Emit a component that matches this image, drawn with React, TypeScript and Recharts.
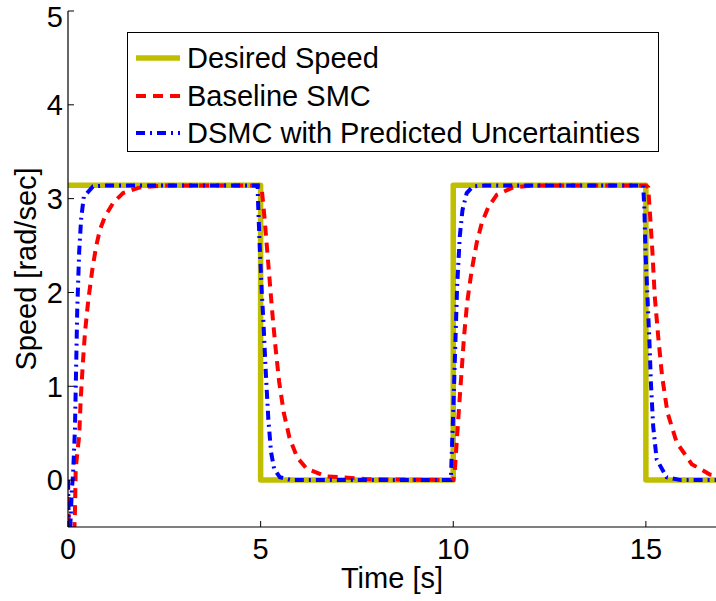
import React from 'react';
import { LineChart, Line, XAxis, YAxis, Legend, Label } from 'recharts';

const xTicks = [0, 5, 10, 15];
const yTicks = [0, 1, 2, 3, 4, 5];
const seriesNames = ['Desired Speed', 'Baseline SMC', 'DSMC with Predicted Uncertainties'];

const desiredTime = [0, 5, 5, 10, 10, 15, 15, 16.82];
const desiredSpeed = [3.1416, 3.1416, 0, 0, 3.1416, 3.1416, 0, 0];

const smcTime = [
  0, 0.04, 0.1, 0.15, 0.18, 0.2, 0.25, 0.29, 0.33, 0.38, 0.44, 0.53, 0.63, 0.73, 0.83, 0.96, 1.18, 1.43, 1.87, 2.5,
  5.0, 5.03, 5.1, 5.17, 5.24, 5.31, 5.39, 5.48, 5.6, 5.75, 5.95, 6.2, 6.7, 7.8,
  10.0, 10.04, 10.1, 10.16, 10.22, 10.28, 10.36, 10.48, 10.61, 10.74, 10.91, 11.13, 11.55, 12.07,
  15.0, 15.06, 15.1, 15.17, 15.23, 15.32, 15.42, 15.56, 15.8, 16.19, 16.66, 16.82,
];
const smcSpeed = [
  0, -0.9, -1.0, -0.7, -0.35, 0.12, 0.32, 0.47, 0.86, 1.21, 1.57, 1.93, 2.24, 2.49, 2.67, 2.81, 2.96, 3.06, 3.12, 3.14,
  3.14, 3.1, 2.8, 2.45, 2.1, 1.75, 1.4, 1.05, 0.72, 0.45, 0.24, 0.12, 0.04, 0.01,
  0.0, 0.09, 0.47, 0.83, 1.18, 1.53, 1.89, 2.24, 2.53, 2.74, 2.91, 3.04, 3.12, 3.14,
  3.14, 3.12, 2.88, 2.43, 1.96, 1.53, 1.11, 0.72, 0.4, 0.17, 0.06, 0.05,
];

const dsmcTime = [
  0, 0.03, 0.07, 0.1, 0.13, 0.18, 0.21, 0.24, 0.29, 0.34, 0.41, 0.65, 1.0,
  4.92, 4.94, 4.98, 5.03, 5.07, 5.13, 5.2, 5.27, 5.35, 5.5, 5.8,
  9.93, 9.94, 9.98, 10.02, 10.06, 10.1, 10.17, 10.24, 10.35, 10.51, 10.8,
  14.93, 14.96, 14.99, 15.04, 15.09, 15.13, 15.19, 15.28, 15.54, 15.9, 16.82,
];
const dsmcSpeed = [
  0, -0.7, -0.4, -0.1, 0.05, 0.54, 1.18, 1.82, 2.43, 2.78, 3.02, 3.13, 3.14,
  3.14, 2.88, 2.46, 2.0, 1.71, 1.18, 0.65, 0.3, 0.12, 0.03, 0.0,
  0.0, 0.04, 0.5, 1.0, 1.53, 2.06, 2.6, 2.88, 3.06, 3.13, 3.14,
  3.14, 2.9, 2.43, 1.96, 1.5, 1.04, 0.57, 0.22, 0.03, 0.0, 0.0,
];

const toPoints = (t: number[], v: number[]) => t.map((x, i) => ({ t: x, v: v[i] }));

const desiredData = toPoints(desiredTime, desiredSpeed);
const smcData = toPoints(smcTime, smcSpeed);
const dsmcData = toPoints(dsmcTime, dsmcSpeed);

const FONT = '"Liberation Sans", Arial, Helvetica, sans-serif';
const FS = 29;

function LegendBox(props: any) {
  const payload = [...(props.payload || [])].sort(
    (a: any, b: any) => seriesNames.indexOf(a.value) - seriesNames.indexOf(b.value)
  );
  return (
    <div
      style={{
        position: 'relative',
        width: 532,
        height: 120,
        boxSizing: 'border-box',
        border: '1.5px solid #000',
        background: '#fff',
        fontFamily: FONT,
        fontSize: FS,
        color: '#000',
      }}
    >
      {payload.map((entry: any, i: number) => {
        const p = entry.payload || {};
        return (
          <div
            key={i}
            style={{
              position: 'absolute',
              left: 8,
              top: 25 + i * 37.5 - 18,
              height: 36,
              display: 'flex',
              alignItems: 'center',
              whiteSpace: 'nowrap',
            }}
          >
            <svg width={44} height={10} style={{ marginRight: 7, display: 'block' }}>
              <line
                x1={0}
                y1={5}
                x2={44}
                y2={5}
                stroke={entry.color}
                strokeWidth={p.strokeWidth || 3}
                strokeDasharray={p.strokeDasharray}
              />
            </svg>
            <span style={{ lineHeight: '36px' }}>{entry.value}</span>
          </div>
        );
      })}
    </div>
  );
}

export default function App() {
  return (
    <div style={{ position: 'absolute', left: 0, top: 0, width: 716, height: 601, background: '#fff', overflow: 'hidden' }}>
      <LineChart width={716} height={601} margin={{ top: 11, right: 0, bottom: 0, left: 0 }}>
        <XAxis
          xAxisId="top"
          orientation="top"
          type="number"
          dataKey="t"
          domain={[0, 16.82]}
          ticks={xTicks}
          allowDataOverflow
          height={0}
          tick={false}
          tickSize={-6}
          axisLine={{ stroke: '#000', strokeWidth: 1.2 }}
          tickLine={{ stroke: '#000' }}
        />
        <XAxis
          type="number"
          dataKey="t"
          domain={[0, 16.82]}
          ticks={xTicks}
          allowDataOverflow
          height={74}
          tickSize={-6}
          tickMargin={17}
          axisLine={{ stroke: '#000', strokeWidth: 1.2 }}
          tickLine={{ stroke: '#000' }}
          tick={{ fill: '#000', fontSize: FS, fontFamily: FONT }}
        >
          <Label
            content={(p: any) => {
              const vb = p.viewBox || {};
              return (
                <text
                  x={vb.x + vb.width / 2}
                  y={vb.y + 61}
                  textAnchor="middle"
                  fill="#000"
                  fontSize={FS}
                  fontFamily={FONT}
                >
                  Time [s]
                </text>
              );
            }}
          />
        </XAxis>
        <YAxis
          type="number"
          domain={[-0.5, 5]}
          ticks={yTicks}
          allowDataOverflow
          width={68}
          tickSize={-6}
          tickMargin={11}
          axisLine={{ stroke: '#000', strokeWidth: 1.2 }}
          tickLine={{ stroke: '#000' }}
          tick={{ fill: '#000', fontSize: FS, fontFamily: FONT }}
        >
          <Label
            content={(p: any) => {
              const vb = p.viewBox || {};
              const cx = vb.x + 36;
              const cy = vb.y + vb.height / 2;
              return (
                <text
                  x={cx}
                  y={cy}
                  textAnchor="middle"
                  fill="#000"
                  fontSize={FS}
                  fontFamily={FONT}
                  transform={`rotate(-90, ${cx}, ${cy})`}
                >
                  Speed [rad/sec]
                </text>
              );
            }}
          />
        </YAxis>
        <Legend
          layout="horizontal"
          verticalAlign="middle"
          align="center"
          content={<LegendBox />}
          wrapperStyle={{ left: 127, top: 32, width: 532, height: 120 }}
        />
        <Line
          data={desiredData}
          dataKey="v"
          name={seriesNames[0]}
          type="linear"
          stroke="#BFBF00"
          strokeWidth={5.5}
          strokeLinejoin="round"
          dot={false}
          activeDot={false}
          isAnimationActive={false}
        />
        <Line
          data={smcData}
          dataKey="v"
          name={seriesNames[1]}
          type="linear"
          stroke="#FF0000"
          strokeWidth={4}
          strokeDasharray="10 7"
          dot={false}
          activeDot={false}
          isAnimationActive={false}
        />
        <Line
          data={dsmcData}
          dataKey="v"
          name={seriesNames[2]}
          type="linear"
          stroke="#0000FF"
          strokeWidth={4}
          strokeDasharray="9 5 2 5"
          dot={false}
          activeDot={false}
          isAnimationActive={false}
        />
      </LineChart>
    </div>
  );
}
